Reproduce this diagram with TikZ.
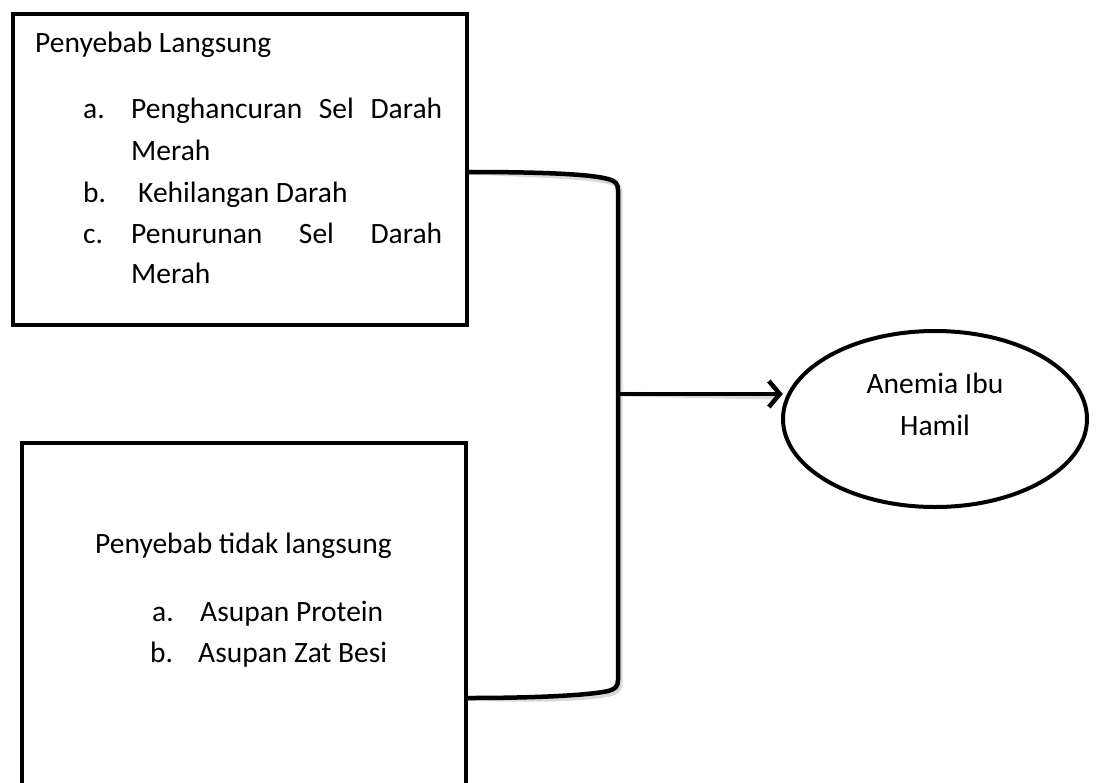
\documentclass[tikz,border=0pt]{standalone}
\usepackage{fontspec}
\setmainfont{Carlito}
\usetikzlibrary{arrows.meta}
\tikzset{
  boxframe/.style={draw=black, line width=4pt, rectangle, inner sep=0pt},
  txt/.style={inner sep=0pt, anchor=base west, font=\fontsize{29.5}{35}\selectfont},
  ctxt/.style={inner sep=0pt, anchor=base, font=\fontsize{29.5}{35}\selectfont},
  conn/.style={draw=black, line width=4.5pt, line join=round},
  shade/.style={draw=black!15, line width=5pt, line join=round},
  arrowtip/.style={-{Straight Barb[length=11pt,width=26pt]}}
}
\begin{document}
\begin{tikzpicture}[x=1pt,y=-1pt]
\useasboundingbox (0,0) rectangle (1097,782);
\clip (0,0) rectangle (1097,782);
% boxes
\node[boxframe, minimum width=454pt, minimum height=311pt, anchor=north west] (b1) at (11,12) {};
\node[boxframe, minimum width=444pt, minimum height=360pt, anchor=north west] (b2) at (20,441) {};
% ellipse
\draw[line width=4pt] (935,419) ellipse [x radius=152, y radius=88];
\node[inner sep=0pt, minimum width=304pt, minimum height=176pt] (ell) at (935,419) {};
% box 1 text
\node[txt] (t1) at (35,52) {Penyebab Langsung};
\node[txt] (la) at (83,118) {a.};
\node[txt] (ia) at (131,118) {\makebox[311pt][s]{Penghancuran\hfill Sel\hfill Darah}};
\node[txt] (ia2) at (131,160) {Merah};
\node[txt] (lb) at (83,202) {b.};
\node[txt] (ib) at (138,202) {Kehilangan Darah};
\node[txt] (lc) at (83,243) {c.};
\node[txt] (ic) at (131,243) {\makebox[311pt][s]{Penurunan\hfill Sel\hfill Darah}};
\node[txt] (ic2) at (131,283) {Merah};
% box 2 text
\node[txt] (t2) at (95,553) {Penyebab tidak langsung};
\node[txt] (l2a) at (152,621) {a.};
\node[txt] (i2a) at (200,621) {Asupan Protein};
\node[txt] (l2b) at (150,662) {b.};
\node[txt] (i2b) at (198,662) {Asupan Zat Besi};
% ellipse text
\node[ctxt] (e1) at (935,393) {Anemia Ibu};
\node[ctxt] (e2) at (935,435) {Hamil};
% connector coordinates
\coordinate (s1) at (b1.east |- 0,172);
\coordinate (s2) at (b2.east |- 0,698);
\coordinate (j) at (618,394);
% shadows
\begin{scope}[xshift=2pt, yshift=-3pt]
\draw[shade] (s1) .. controls (540,172) and (590,174) .. (608,179)
  .. controls (615,181) and (618,183) .. (618,190) -- (618,680)
  .. controls (618,687) and (615,689) .. (608,691)
  .. controls (590,695) and (540,698) .. (s2);
\draw[shade] (j) -- (776,394);
\end{scope}
% bracket
\draw[conn] (s1) .. controls (540,172) and (590,174) .. (608,179)
  .. controls (615,181) and (618,183) .. (618,190) -- (618,680)
  .. controls (618,687) and (615,689) .. (608,691)
  .. controls (590,695) and (540,698) .. (s2);
% arrow
\draw[conn, arrowtip] (j) -- (j -| ell.west);
\end{tikzpicture}
\end{document}
